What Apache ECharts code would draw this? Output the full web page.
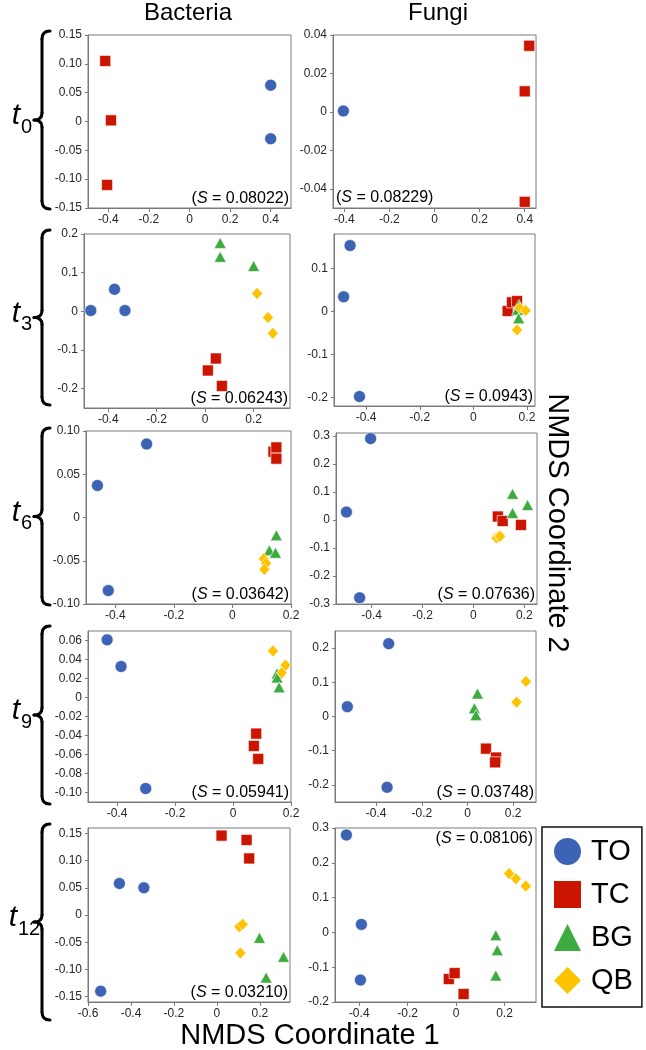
<!DOCTYPE html>
<html><head><meta charset="utf-8">
<script src="https://cdn.jsdelivr.net/npm/echarts@6/dist/echarts.min.js"></script>
<style>html,body{margin:0;padding:0;background:#fff}#c{width:646px;height:1050px}</style>
</head><body><div id="c"></div>
<script>
// ---------- DATA ----------
const groups = ['TO', 'TC', 'BG', 'QB'];
const columns = ['Bacteria', 'Fungi'];
const times = ['0', '3', '6', '9', '12'];

const bac_t0  = { TO: [[0.40, 0.063], [0.40, -0.030]],
                  TC: [[-0.415, 0.105], [-0.387, 0.002], [-0.406, -0.110]] };
const fun_t0  = { TO: [[-0.404, 0.0005]],
                  TC: [[0.42, 0.0344], [0.40, 0.0107], [0.40, -0.0468]] };
const bac_t3  = { TO: [[-0.472, 0.002], [-0.374, 0.057], [-0.331, 0.002]],
                  TC: [[0.044, -0.122], [0.011, -0.153], [0.069, -0.193]],
                  BG: [[0.062, 0.177], [0.062, 0.141], [0.200, 0.117]],
                  QB: [[0.214, 0.046], [0.259, -0.016], [0.279, -0.057]] };
const fun_t3  = { TO: [[-0.460, 0.153], [-0.484, 0.034], [-0.425, -0.198]],
                  TC: [[0.128, 0.001], [0.144, 0.021], [0.163, 0.024]],
                  BG: [[0.170, 0.015], [0.165, 0.004], [0.169, -0.016]],
                  QB: [[0.173, 0.008], [0.195, 0.002], [0.163, -0.043]] };
const bac_t6  = { TO: [[-0.293, 0.085], [-0.461, 0.037], [-0.424, -0.0845]],
                  TC: [[0.140, 0.076], [0.150, 0.081], [0.150, 0.068]],
                  BG: [[0.150, -0.0206], [0.126, -0.038], [0.147, -0.0407]],
                  QB: [[0.107, -0.0477], [0.115, -0.053], [0.109, -0.060]] };
const fun_t6  = { TO: [[-0.404, 0.290], [-0.499, 0.028], [-0.447, -0.278]],
                  TC: [[0.096, 0.012], [0.115, -0.004], [0.187, -0.018]],
                  BG: [[0.154, 0.093], [0.213, 0.053], [0.154, 0.025]],
                  QB: [[0.090, -0.064], [0.100, -0.060], [0.105, -0.058]] };
const bac_t9  = { TO: [[-0.434, 0.0607], [-0.386, 0.0326], [-0.301, -0.0958]],
                  TC: [[0.080, -0.038], [0.072, -0.051], [0.087, -0.0646]],
                  BG: [[0.152, 0.0253], [0.152, 0.021], [0.159, 0.0107]],
                  QB: [[0.138, 0.049], [0.181, 0.034], [0.168, 0.026]] };
const fun_t9  = { TO: [[-0.345, 0.213], [-0.526, 0.0287], [-0.352, -0.207]],
                  TC: [[0.081, -0.094], [0.125, -0.120], [0.121, -0.134]],
                  BG: [[0.044, 0.067], [0.030, 0.024], [0.037, 0.004]],
                  QB: [[0.256, 0.1026], [0.215, 0.042]] };
const bac_t12 = { TO: [[-0.454, 0.058], [-0.340, 0.050], [-0.541, -0.140]],
                  TC: [[0.0215, 0.146], [0.138, 0.138], [0.150, 0.104]],
                  BG: [[0.198, -0.042], [0.310, -0.077], [0.229, -0.115]],
                  QB: [[0.104, -0.0215], [0.120, -0.017], [0.109, -0.070]] };
const fun_t12 = { TO: [[-0.453, 0.280], [-0.391, 0.023], [-0.395, -0.137]],
                  TC: [[-0.030, -0.134], [-0.006, -0.117], [0.031, -0.177]],
                  BG: [[0.164, -0.008], [0.170, -0.051], [0.164, -0.124]],
                  QB: [[0.219, 0.169], [0.247, 0.154], [0.288, 0.133]] };

const stress = ['0.08022', '0.08229', '0.06243', '0.0943', '0.03642',
                '0.07636', '0.05941', '0.03748', '0.03210', '0.08106'];

// tick labels
const xTicks5   = [-0.4, -0.2, 0, 0.2, 0.4];
const xTicks4   = [-0.4, -0.2, 0, 0.2];
const xTicksB12 = [-0.6, -0.4, -0.2, 0, 0.2];
const yTicksB0  = [-0.15, -0.10, -0.05, 0, 0.05, 0.10, 0.15];
const yTicksF0  = [-0.04, -0.02, 0, 0.02, 0.04];
const yTicksB3  = [-0.2, -0.1, 0, 0.1, 0.2];
const yTicksF3  = [-0.2, -0.1, 0, 0.1];
const yTicksB6  = [-0.10, -0.05, 0, 0.05, 0.10];
const yTicksF6  = [-0.3, -0.2, -0.1, 0, 0.1, 0.2, 0.3];
const yTicksB9  = [-0.10, -0.08, -0.06, -0.04, -0.02, 0, 0.02, 0.04, 0.06];
const yTicksF9  = [-0.2, -0.1, 0, 0.1, 0.2];
const yTicksB12 = [-0.15, -0.10, -0.05, 0, 0.05, 0.10, 0.15];
const yTicksF12 = [-0.2, -0.1, 0, 0.1, 0.2, 0.3];

// ---------- LAYOUT / STYLE ----------
const FONT = '"Liberation Sans", Arial, sans-serif';
const colors  = { TO: '#3d63b5', TC: '#cc1500', BG: '#3dab3d', QB: '#fdc300' };
const symbols = { TO: 'circle', TC: 'rect', BG: 'triangle', QB: 'diamond' };
const sizes   = { TO: 12, TC: 11, BG: [12, 11], QB: [11, 12] };

const panels = [
  { d: bac_t0,  xr: [-0.5, 0.5],   yr: [-0.15, 0.15], xt: xTicks5,   yt: yTicksB0,  yd: 2, box: [88, 35, 203, 173],  s: 'br' },
  { d: fun_t0,  xr: [-0.45, 0.45], yr: [-0.05, 0.04], xt: xTicks5,   yt: yTicksF0,  yd: 2, box: [333, 35, 203, 173], s: 'bl' },
  { d: bac_t3,  xr: [-0.5, 0.35],  yr: [-0.25, 0.2],  xt: xTicks4,   yt: yTicksB3,  yd: 1, box: [84, 234, 206, 174], s: 'br' },
  { d: fun_t3,  xr: [-0.52, 0.23], yr: [-0.22, 0.18], xt: xTicks4,   yt: yTicksF3,  yd: 1, box: [334, 234, 201, 172], s: 'br' },
  { d: bac_t6,  xr: [-0.5, 0.2],   yr: [-0.1, 0.1],   xt: xTicks4,   yt: yTicksB6,  yd: 2, box: [86, 431, 205, 173], s: 'br' },
  { d: fun_t6,  xr: [-0.54, 0.25], yr: [-0.3, 0.31],  xt: xTicks4,   yt: yTicksF6,  yd: 1, box: [336, 433, 201, 171], s: 'br' },
  { d: bac_t9,  xr: [-0.5, 0.2],   yr: [-0.11, 0.07], xt: xTicks4,   yt: yTicksB9,  yd: 2, box: [88, 631, 203, 171], s: 'br' },
  { d: fun_t9,  xr: [-0.58, 0.3],  yr: [-0.25, 0.25], xt: xTicks4,   yt: yTicksF9,  yd: 1, box: [335, 631, 201, 171], s: 'br' },
  { d: bac_t12, xr: [-0.6, 0.34],  yr: [-0.16, 0.16], xt: xTicksB12, yt: yTicksB12, yd: 2, box: [88, 828, 202, 174], s: 'br' },
  { d: fun_t12, xr: [-0.5, 0.33],  yr: [-0.2, 0.3],   xt: xTicks4,   yt: yTicksF12, yd: 1, box: [335, 828, 201, 174], s: 'tr' }
];

function fmt(d) { return v => (Math.abs(v) < 1e-9 ? '0' : v.toFixed(d)); }

const grid = [], xAxis = [], yAxis = [], series = [], graphic = [];
const axisCol = '#7a7a7a';
panels.forEach((p, i) => {
  const [l, t, w, h] = p.box;
  grid.push({ left: l, top: t, width: w, height: h, show: true, borderColor: axisCol, borderWidth: 1 });
  xAxis.push({
    type: 'value', gridIndex: i, min: p.xr[0], max: p.xr[1],
    axisLine: { show: true, onZero: false, lineStyle: { color: axisCol, width: 1 } },
    splitLine: { show: false },
    axisTick: { show: true, customValues: p.xt, length: 4, lineStyle: { color: axisCol } },
    axisLabel: { customValues: p.xt, formatter: fmt(1), fontSize: 12, color: '#262626', margin: 6, fontFamily: FONT }
  });
  yAxis.push({
    type: 'value', gridIndex: i, min: p.yr[0], max: p.yr[1],
    axisLine: { show: true, onZero: false, lineStyle: { color: axisCol, width: 1 } },
    splitLine: { show: false },
    axisTick: { show: true, customValues: p.yt, length: 3, lineStyle: { color: axisCol } },
    axisLabel: { customValues: p.yt, formatter: fmt(p.yd), fontSize: 12, color: '#262626', margin: 6, fontFamily: FONT }
  });
  groups.forEach(g => {
    if (!p.d[g]) return;
    series.push({
      type: 'scatter', name: g, xAxisIndex: i, yAxisIndex: i, data: p.d[g],
      symbol: symbols[g], symbolSize: sizes[g], silent: true,
      itemStyle: { color: colors[g], borderColor: '#fff', borderWidth: 0.6, opacity: 1 }
    });
  });
  let x, y, align;
  if (p.s === 'br') { x = l + w - 2; y = t + h - 9; align = 'right'; }
  else if (p.s === 'bl') { x = l + 3; y = t + h - 10; align = 'left'; }
  else { x = l + w - 3; y = t + 11; align = 'right'; }
  graphic.push({
    type: 'text', x: x, y: y, silent: true, z: 100,
    style: {
      text: '{n|(}{i|S}{n| = ' + stress[i] + ')}', align: align, verticalAlign: 'middle',
      fontSize: 16, fontFamily: FONT, fill: '#000',
      rich: { n: { fontSize: 16, fontFamily: FONT, fill: '#000' },
              i: { fontSize: 16, fontFamily: FONT, fill: '#000', fontStyle: 'italic' } }
    }
  });
});

graphic.push({ type: 'text', x: 188, y: 13, style: { text: columns[0], font: '24px ' + FONT, fill: '#000', align: 'center', verticalAlign: 'middle' } });
graphic.push({ type: 'text', x: 438, y: 13, style: { text: columns[1], font: '24px ' + FONT, fill: '#000', align: 'center', verticalAlign: 'middle' } });
graphic.push({ type: 'text', x: 310, y: 1036, style: { text: 'NMDS Coordinate 1', font: '29px ' + FONT, fill: '#000', align: 'center', verticalAlign: 'middle' } });
graphic.push({ type: 'text', x: 557, y: 523, rotation: -Math.PI / 2, style: { text: 'NMDS Coordinate 2', font: '29px ' + FONT, fill: '#000', align: 'center', verticalAlign: 'middle' } });

// row braces and labels
const rows = [[31, 209], [230, 405], [428, 605], [626, 804], [824, 1020]];
const braceStyle = { stroke: '#000', lineWidth: 3, fill: null, lineCap: 'round' };
rows.forEach((r, k) => {
  const [y1, y2] = r, ym = (y1 + y2) / 2, xl = 42, xr = 50, xt = 34;
  graphic.push({ type: 'bezierCurve', silent: true, shape: { x1: xr, y1: y1, cpx1: xl, cpy1: y1, x2: xl, y2: y1 + 8 }, style: braceStyle });
  graphic.push({ type: 'line', silent: true, shape: { x1: xl, y1: y1 + 8, x2: xl, y2: ym - 7 }, style: braceStyle });
  graphic.push({ type: 'bezierCurve', silent: true, shape: { x1: xl, y1: ym - 7, cpx1: xl, cpy1: ym, x2: xt, y2: ym }, style: braceStyle });
  graphic.push({ type: 'bezierCurve', silent: true, shape: { x1: xt, y1: ym, cpx1: xl, cpy1: ym, x2: xl, y2: ym + 7 }, style: braceStyle });
  graphic.push({ type: 'line', silent: true, shape: { x1: xl, y1: ym + 7, x2: xl, y2: y2 - 8 }, style: braceStyle });
  graphic.push({ type: 'bezierCurve', silent: true, shape: { x1: xl, y1: y2 - 8, cpx1: xl, cpy1: y2, x2: xr, y2: y2 }, style: braceStyle });
  const sub = times[k];
  const tx = sub.length > 1 ? 13 : 16;
  graphic.push({ type: 'text', x: tx, y: ym - 4, style: { text: 't', font: 'italic 30px ' + FONT, fill: '#000', align: 'center', verticalAlign: 'middle' } });
  graphic.push({ type: 'text', x: tx + 5, y: ym + 7, style: { text: sub, font: '20px ' + FONT, fill: '#000', align: 'left', verticalAlign: 'middle' } });
});

const chart = echarts.init(document.getElementById('c'), null, { renderer: 'canvas' });
chart.setOption({
  animation: false,
  backgroundColor: '#fff',
  grid, xAxis, yAxis, series, graphic,
  legend: {
    data: groups, orient: 'vertical', left: 542, top: 827,
    itemWidth: 27, itemHeight: 27, itemGap: 14,
    padding: [10, 9, 12, 12],
    borderColor: '#111', borderWidth: 1.5, selectedMode: false,
    itemStyle: { borderWidth: 0 },
    textStyle: { fontSize: 29, color: '#000', fontFamily: FONT, padding: [0, 0, 0, 5] }
  }
});
</script>
</body></html>
